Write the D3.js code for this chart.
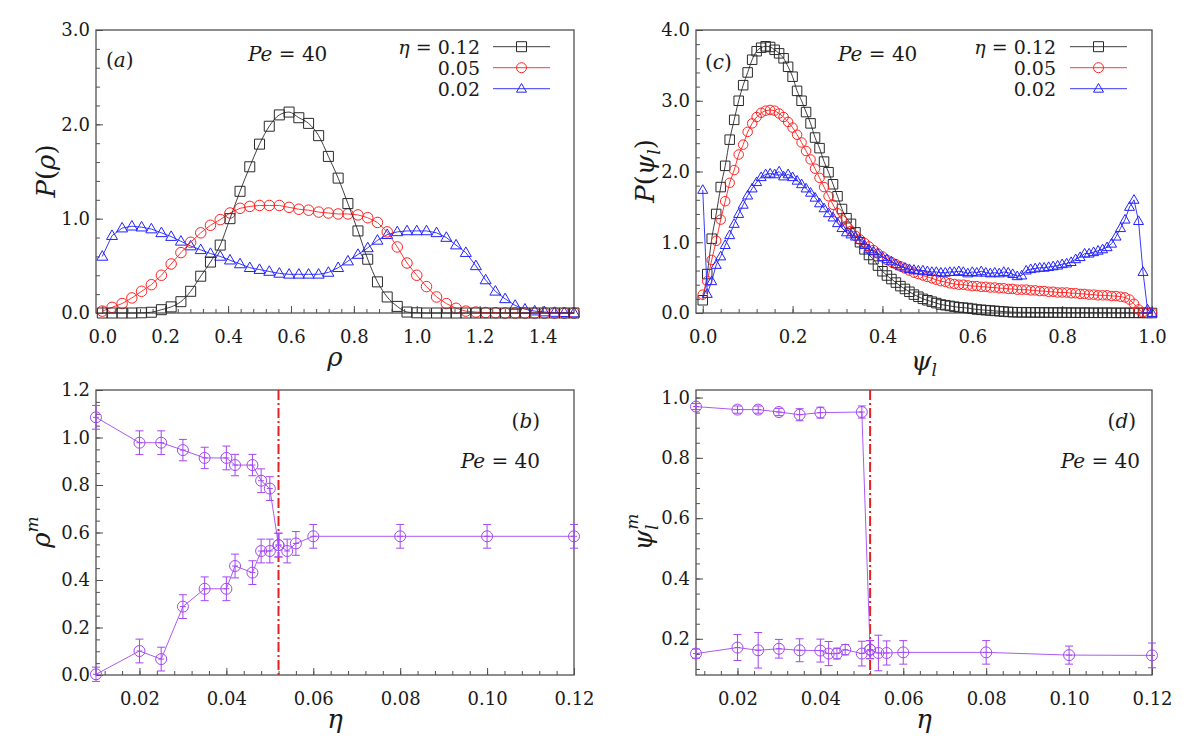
<!DOCTYPE html>
<html>
<head>
<meta charset="utf-8">
<script src="https://cdn.jsdelivr.net/npm/d3@7"></script>
<style>
  body { margin: 0; background: #fff; }
</style>
</head>
<body>
<div id="container"></div>
<script>
// ---------- panel (a): P(rho), Pe = 40 ----------
const rhoBins = [0, 0.031, 0.063, 0.094, 0.125, 0.156, 0.188, 0.219, 0.25, 0.281, 0.313, 0.344, 0.375, 0.406, 0.438, 0.469,
  0.5, 0.531, 0.563, 0.594, 0.625, 0.656, 0.688, 0.719, 0.75, 0.781, 0.813, 0.844, 0.875, 0.906, 0.938, 0.969,
  1.0, 1.031, 1.063, 1.094, 1.125, 1.156, 1.188, 1.219, 1.25, 1.281, 1.313, 1.344, 1.375, 1.406, 1.438, 1.469, 1.5];
const pRho012 = [0, 0, 0, 0, 0.002, 0.008, 0.035, 0.065, 0.12, 0.23, 0.39, 0.54, 0.72, 1.0, 1.29, 1.55,
  1.79, 1.98, 2.10, 2.13, 2.07, 2.01, 1.88, 1.66, 1.43, 1.16, 0.87, 0.57, 0.33, 0.17, 0.07, 0.01,
  0.002, 0, 0, 0, 0, 0, 0, 0, 0, 0, 0, 0, 0, 0, 0, 0, 0];
const pRho005 = [0.02, 0.06, 0.10, 0.16, 0.23, 0.30, 0.40, 0.52, 0.64, 0.75, 0.85, 0.93, 0.99, 1.06, 1.11, 1.13,
  1.14, 1.14, 1.14, 1.12, 1.10, 1.09, 1.07, 1.06, 1.05, 1.05, 1.04, 1.01, 0.96, 0.86, 0.70, 0.53,
  0.40, 0.28, 0.17, 0.10, 0.05, 0.02, 0.01, 0.005, 0.003, 0, 0, 0, 0, 0, 0, 0, 0];
const pRho002 = [0.60, 0.82, 0.90, 0.92, 0.91, 0.89, 0.85, 0.81, 0.76, 0.71, 0.67, 0.63, 0.60, 0.56, 0.52, 0.48,
  0.46, 0.44, 0.42, 0.41, 0.41, 0.41, 0.41, 0.43, 0.48, 0.55, 0.62, 0.69, 0.77, 0.83, 0.86, 0.87,
  0.87, 0.87, 0.85, 0.80, 0.72, 0.64, 0.50, 0.35, 0.23, 0.15, 0.08, 0.04, 0.02, 0.01, 0.005, 0.003, 0];

// ---------- panel (c): P(psi_l), Pe = 40 ----------
const psiBins = [0, 0.01, 0.02, 0.03, 0.04, 0.05, 0.06, 0.07, 0.08, 0.09, 0.1, 0.11, 0.12, 0.13, 0.14, 0.15, 0.16, 0.17, 0.18, 0.19,
  0.2, 0.21, 0.22, 0.23, 0.24, 0.25, 0.26, 0.27, 0.28, 0.29, 0.3, 0.31, 0.32, 0.33, 0.34, 0.35, 0.36, 0.37, 0.38, 0.39,
  0.4, 0.41, 0.42, 0.43, 0.44, 0.45, 0.46, 0.47, 0.48, 0.49, 0.5, 0.51, 0.52, 0.53, 0.54, 0.55, 0.56, 0.57, 0.58, 0.59,
  0.6, 0.61, 0.62, 0.63, 0.64, 0.65, 0.66, 0.67, 0.68, 0.69, 0.7, 0.71, 0.72, 0.73, 0.74, 0.75, 0.76, 0.77, 0.78, 0.79,
  0.8, 0.81, 0.82, 0.83, 0.84, 0.85, 0.86, 0.87, 0.88, 0.89, 0.9, 0.91, 0.92, 0.93, 0.94, 0.95, 0.96, 0.97, 0.98, 0.99, 1.0];
const pPsi012 = [0.18, 0.55, 1.05, 1.40, 1.78, 2.08, 2.45, 2.73, 3.00, 3.22,
  3.40, 3.58, 3.70, 3.75, 3.77, 3.76, 3.72, 3.67, 3.60, 3.48,
  3.34, 3.14, 3.00, 2.84, 2.68, 2.48, 2.33, 2.14, 1.99, 1.82,
  1.65, 1.47, 1.34, 1.26, 1.14, 1.00, 0.90, 0.82, 0.76, 0.67,
  0.59, 0.53, 0.48, 0.43, 0.38, 0.34, 0.30, 0.26, 0.23, 0.20,
  0.18, 0.16, 0.14, 0.12, 0.11, 0.10, 0.09, 0.08, 0.075, 0.07,
  0.06, 0.05, 0.045, 0.04, 0.035, 0.03, 0.025, 0.02, 0.015, 0.012,
  0.01, 0.01, 0.009, 0.009, 0.008, 0.008, 0.007, 0.007, 0.006, 0.006,
  0.005, 0.005, 0.005, 0.004, 0.004, 0.004, 0.004, 0.003, 0.003, 0.003,
  0.003, 0.003, 0.002, 0.002, 0.002, 0.002, 0.002, 0.002, 0.001, 0.001, 0];
const pPsi005 = [0.26, 0.45, 0.75, 1.02, 1.32, 1.58, 1.84, 2.02, 2.24, 2.38,
  2.56, 2.68, 2.77, 2.83, 2.86, 2.87, 2.86, 2.82, 2.77, 2.70,
  2.62, 2.52, 2.41, 2.29, 2.17, 2.04, 1.91, 1.78, 1.65, 1.53,
  1.41, 1.31, 1.23, 1.16, 1.09, 1.04, 0.99, 0.94, 0.89, 0.84,
  0.80, 0.75, 0.72, 0.69, 0.66, 0.63, 0.60, 0.57, 0.55, 0.53,
  0.51, 0.49, 0.47, 0.45, 0.44, 0.42, 0.41, 0.40, 0.40, 0.39,
  0.38, 0.38, 0.37, 0.37, 0.36, 0.36, 0.35, 0.35, 0.34, 0.34,
  0.33, 0.33, 0.33, 0.32, 0.32, 0.31, 0.31, 0.30, 0.30, 0.29,
  0.29, 0.29, 0.28, 0.28, 0.27, 0.27, 0.26, 0.26, 0.25, 0.25,
  0.25, 0.24, 0.24, 0.23, 0.22, 0.19, 0.13, 0.05, 0.01, 0.0, 0.0];
const pPsi002 = [1.74, 0.27, 0.45, 0.68, 0.80, 0.96, 1.10, 1.26, 1.40, 1.53,
  1.66, 1.76, 1.85, 1.92, 1.96, 1.97, 1.96, 2.00, 1.93, 1.96,
  1.92, 1.87, 1.82, 1.76, 1.70, 1.63, 1.55, 1.48, 1.41, 1.35,
  1.27, 1.20, 1.14, 1.11, 1.08, 1.03, 0.96, 0.90, 0.87, 0.84,
  0.79, 0.76, 0.73, 0.69, 0.66, 0.64, 0.62, 0.61, 0.60, 0.60,
  0.59, 0.58, 0.58, 0.57, 0.57, 0.58, 0.58, 0.59, 0.58, 0.56,
  0.58, 0.57, 0.59, 0.57, 0.56, 0.57, 0.56, 0.58, 0.57, 0.55,
  0.52, 0.53, 0.60, 0.62, 0.63, 0.64, 0.64, 0.65, 0.66, 0.67,
  0.69, 0.70, 0.72, 0.76, 0.79, 0.84, 0.84, 0.86, 0.88, 0.90,
  0.93, 0.98, 1.08, 1.20, 1.32, 1.50, 1.60, 1.30, 0.58, 0.05, 0.0];

const etaLabels = ["0.12", "0.05", "0.02"];

// ---------- panel (b): rho^m vs eta ----------
const etaUpperB = [0.01, 0.02, 0.025, 0.03, 0.035, 0.04, 0.042, 0.046, 0.048, 0.05, 0.052];
const rhoUpper = [1.085, 0.978, 0.978, 0.947, 0.914, 0.914, 0.884, 0.884, 0.818, 0.785, 0.547];
const rhoUpperErr = [0.05, 0.05, 0.05, 0.045, 0.045, 0.05, 0.045, 0.045, 0.05, 0.05, 0.05];
const etaLowerB = [0.01, 0.02, 0.025, 0.03, 0.035, 0.04, 0.042, 0.046, 0.048, 0.05, 0.052, 0.054, 0.056, 0.06, 0.08, 0.1, 0.12];
const rhoLower = [0.003, 0.101, 0.067, 0.288, 0.363, 0.363, 0.459, 0.431, 0.522, 0.522, 0.547, 0.522, 0.554, 0.584, 0.584, 0.584, 0.584];
const rhoLowerErr = [0.03, 0.05, 0.05, 0.05, 0.05, 0.05, 0.05, 0.05, 0.05, 0.05, 0.05, 0.05, 0.05, 0.05, 0.05, 0.05, 0.05];

// ---------- panel (d): psi_l^m vs eta ----------
const etaUpperD = [0.01, 0.02, 0.025, 0.03, 0.035, 0.04, 0.05, 0.052];
const psiUpper = [0.970, 0.960, 0.960, 0.952, 0.943, 0.950, 0.952, 0.164];
const psiUpperErr = [0.01, 0.012, 0.012, 0.012, 0.02, 0.018, 0.02, 0.03];
const etaLowerD = [0.01, 0.02, 0.025, 0.03, 0.035, 0.04, 0.042, 0.044, 0.046, 0.05, 0.052, 0.054, 0.056, 0.06, 0.08, 0.1, 0.12];
const psiLower = [0.151, 0.171, 0.162, 0.167, 0.162, 0.161, 0.151, 0.151, 0.164, 0.151, 0.164, 0.153, 0.153, 0.155, 0.155, 0.146, 0.145];
const psiLowerErr = [0.015, 0.043, 0.059, 0.031, 0.038, 0.038, 0.04, 0.018, 0.017, 0.041, 0.03, 0.059, 0.04, 0.039, 0.039, 0.03, 0.041];

const etaCritical = 0.052;

// tick labels
const xTicksA = [0, 0.2, 0.4, 0.6, 0.8, 1.0, 1.2, 1.4];
const yTicksA = [0, 1, 2, 3];
const xTicksC = [0, 0.2, 0.4, 0.6, 0.8, 1.0];
const yTicksC = [0, 1, 2, 3, 4];
const xTicksEta = [0.02, 0.04, 0.06, 0.08, 0.10, 0.12];
const yTicksB = [0, 0.2, 0.4, 0.6, 0.8, 1.0, 1.2];
const yTicksD = [0.2, 0.4, 0.6, 0.8, 1.0];

// ---------- styles ----------
const serif = "'DejaVu Serif', 'Liberation Serif', serif";
const frameCol = "#505050";
const seriesCol = ["#2a2a2a", "#ff2222", "#2222ff"];
const seriesShape = ["square", "circle", "triangle"];
const purple = "#a446f4";
const dashRed = "#e52222";

const svg = d3.select("#container").append("svg")
  .attr("width", 1200)
  .attr("height", 750)
  .attr("viewBox", [0, 0, 1200, 750])
  .style("font-family", serif);

function marker(shape, s) {
  if (shape === "square") return `M${-s / 2},${-s / 2}h${s}v${s}h${-s}Z`;
  if (shape === "circle") {
    const p = d3.path();
    p.arc(0, 0, s / 2, 0, 2 * Math.PI);
    return p.toString();
  }
  const h = s * 0.866;
  return `M0,${-h * 0.6}L${s / 2},${h * 0.4}L${-s / 2},${h * 0.4}Z`;
}

function minorRange(a, b, step) {
  return d3.range(Math.round((b - a) / step) + 1).map(i => +(a + i * step).toFixed(5));
}

// Builds the frame, inward ticks and tick labels of one panel.
function panel(o) {
  const x = d3.scaleLinear().domain(o.xDomain).range([o.l, o.r]);
  const y = d3.scaleLinear().domain(o.yDomain).range([o.b, o.t]);
  const g = svg.append("g").attr("color", frameCol);
  const inX = v => v >= o.xDomain[0] - 1e-9 && v <= o.xDomain[1] + 1e-9;
  const inY = v => v >= o.yDomain[0] - 1e-9 && v <= o.yDomain[1] + 1e-9;

  g.append("g").attr("transform", `translate(0,${o.b})`)
    .call(d3.axisBottom(x).tickValues(o.xMinor.filter(inX)).tickSize(-4).tickFormat(""))
    .call(a => a.select(".domain").remove());
  g.append("g").attr("transform", `translate(${o.l},0)`)
    .call(d3.axisLeft(y).tickValues(o.yMinor.filter(inY)).tickSize(-4).tickFormat(""))
    .call(a => a.select(".domain").remove());

  const ax = g.append("g").attr("transform", `translate(0,${o.b})`)
    .call(d3.axisBottom(x).tickValues(o.xTicks).tickSize(-7).tickPadding(17).tickFormat(d3.format(o.xFmt)))
    .call(a => a.select(".domain").remove());
  const ay = g.append("g").attr("transform", `translate(${o.l},0)`)
    .call(d3.axisLeft(y).tickValues(o.yTicks).tickSize(-7).tickPadding(6).tickFormat(d3.format(o.yFmt)))
    .call(a => a.select(".domain").remove());
  [ax, ay].forEach(a => {
    a.attr("font-family", null).attr("font-size", null);
    a.selectAll("text").style("font-family", serif).style("font-size", "18px").attr("fill", "#1a1a1a");
  });

  g.append("rect")
    .attr("x", o.l).attr("y", o.t)
    .attr("width", o.r - o.l).attr("height", o.b - o.t)
    .attr("fill", "none").attr("stroke", frameCol).attr("stroke-width", 1.3);
  return {x, y};
}

function rich(g, x, y, parts, size, anchor, rotate) {
  const t = g.append("text")
    .attr("x", x).attr("y", y)
    .style("font-family", serif)
    .style("font-size", size + "px")
    .attr("fill", "#1a1a1a")
    .attr("text-anchor", anchor || "start");
  if (rotate) t.attr("transform", `rotate(-90,${x},${y})`);
  parts.forEach(p => {
    const s = t.append("tspan").text(p.t);
    if (p.i) s.style("font-style", "italic");
    if (p.dx) s.attr("dx", p.dx);
    if (p.dy) s.attr("dy", p.dy);
    if (p.fs) s.style("font-size", p.fs);
  });
  return t;
}

function drawSeries(sc, bins, vals, col, shape, size, curve) {
  const pts = d3.zip(bins, vals);
  const g = svg.append("g");
  g.append("path")
    .attr("d", d3.line().x(d => sc.x(d[0])).y(d => sc.y(d[1])).curve(curve || d3.curveLinear)(pts))
    .attr("fill", "none").attr("stroke", col).attr("stroke-width", 0.9);
  g.selectAll("path.m").data(pts).join("path")
    .attr("class", "m")
    .attr("transform", d => `translate(${sc.x(d[0])},${sc.y(d[1])})`)
    .attr("d", marker(shape, size))
    .attr("fill", "none").attr("stroke", col).attr("stroke-width", 1);
}

function legend(x0, y0, textRight, size) {
  const g = svg.append("g");
  etaLabels.forEach((lab, i) => {
    const yy = y0 + i * 21;
    const parts = i === 0 ? [{t: "η", i: true}, {t: " = " + lab}] : [{t: lab}];
    rich(g, textRight, yy + 7, parts, 19, "end");
    g.append("line").attr("x1", x0).attr("x2", x0 + 57).attr("y1", yy).attr("y2", yy)
      .attr("stroke", seriesCol[i]).attr("stroke-width", 0.9);
    g.append("path").attr("transform", `translate(${x0 + 28.5},${yy})`)
      .attr("d", marker(seriesShape[i], size))
      .attr("fill", "none").attr("stroke", seriesCol[i]).attr("stroke-width", 1);
  });
}

function drawErrSeries(sc, etas, vals, errs) {
  const pts = d3.zip(etas, vals, errs);
  const g = svg.append("g").attr("stroke", purple).attr("fill", "none");
  g.append("path")
    .attr("d", d3.line().x(d => sc.x(d[0])).y(d => sc.y(d[1]))(pts))
    .attr("stroke-width", 0.9);
  pts.forEach(d => {
    const cx = sc.x(d[0]), cy = sc.y(d[1]);
    const y1 = sc.y(d[1] - d[2]), y2 = sc.y(d[1] + d[2]);
    g.append("line").attr("x1", cx).attr("x2", cx).attr("y1", y1).attr("y2", y2).attr("stroke-width", 1);
    g.append("line").attr("x1", cx - 4).attr("x2", cx + 4).attr("y1", y1).attr("y2", y1).attr("stroke-width", 1);
    g.append("line").attr("x1", cx - 4).attr("x2", cx + 4).attr("y1", y2).attr("y2", y2).attr("stroke-width", 1);
    g.append("line").attr("x1", cx - 3).attr("x2", cx + 3).attr("y1", cy).attr("y2", cy).attr("stroke-width", 1);
    g.append("circle").attr("cx", cx).attr("cy", cy).attr("r", 5.5).attr("stroke-width", 1);
  });
}

function critLine(sc) {
  svg.append("line")
    .attr("x1", sc.x(etaCritical)).attr("x2", sc.x(etaCritical))
    .attr("y1", sc.y.range()[1]).attr("y2", sc.y.range()[0])
    .attr("stroke", dashRed).attr("stroke-width", 2)
    .attr("stroke-dasharray", "10,3,2,3");
}

// ---------- (a) ----------
const pa = panel({
  l: 96, r: 574, t: 30, b: 313,
  xDomain: [-0.02, 1.5], yDomain: [0, 3],
  xTicks: xTicksA, xMinor: minorRange(0, 1.48, 0.04), xFmt: ".1f",
  yTicks: yTicksA, yMinor: minorRange(0, 3, 0.2), yFmt: ".1f"
});
drawSeries(pa, rhoBins, pRho002, seriesCol[2], "triangle", 11);
drawSeries(pa, rhoBins, pRho005, seriesCol[1], "circle", 10.5);
drawSeries(pa, rhoBins, pRho012, seriesCol[0], "square", 10, d3.curveMonotoneX);
legend(493, 46.7, 480, 10);
const ta = svg.append("g");
rich(ta, 106, 67, [{t: "("}, {t: "a", i: true}, {t: ")"}], 20);
rich(ta, 248, 61, [{t: "Pe", i: true}, {t: " = 40"}], 20);
rich(ta, 335, 366, [{t: "ρ", i: true}], 26, "middle");
rich(ta, 55, 171, [{t: "P", i: true}, {t: "("}, {t: "ρ", i: true}, {t: ")"}], 26, "middle", true);

// ---------- (c) ----------
const pc = panel({
  l: 696, r: 1152, t: 30, b: 313,
  xDomain: [-0.015, 1.0], yDomain: [0, 4],
  xTicks: xTicksC, xMinor: minorRange(0, 1, 0.04), xFmt: ".1f",
  yTicks: yTicksC, yMinor: minorRange(0, 4, 0.2), yFmt: ".1f"
});
drawSeries(pc, psiBins, pPsi012, seriesCol[0], "square", 9.5, d3.curveMonotoneX);
drawSeries(pc, psiBins, pPsi005, seriesCol[1], "circle", 9.5);
drawSeries(pc, psiBins, pPsi002, seriesCol[2], "triangle", 10);
legend(1070, 46.7, 1056, 10);
const tc = svg.append("g");
rich(tc, 705, 69, [{t: "("}, {t: "c", i: true}, {t: ")"}], 20);
rich(tc, 838, 61, [{t: "Pe", i: true}, {t: " = 40"}], 20);
rich(tc, 924, 370, [{t: "ψ", i: true}, {t: "l", i: true, dy: 6, fs: "17px"}], 26, "middle");
rich(tc, 654, 171, [{t: "P", i: true}, {t: "("}, {t: "ψ", i: true}, {t: "l", i: true, dy: 6, fs: "17px"}, {t: ")", dy: -6}], 26, "middle", true);

// ---------- (b) ----------
const pb = panel({
  l: 96, r: 574, t: 390, b: 675,
  xDomain: [0.01, 0.12], yDomain: [0, 1.2],
  xTicks: xTicksEta, xMinor: minorRange(0.012, 0.12, 0.004), xFmt: ".2f",
  yTicks: yTicksB, yMinor: minorRange(0, 1.2, 0.05), yFmt: ".1f"
});
critLine(pb);
drawErrSeries(pb, etaUpperB, rhoUpper, rhoUpperErr);
drawErrSeries(pb, etaLowerB, rhoLower, rhoLowerErr);
const tb = svg.append("g");
rich(tb, 540, 428, [{t: "("}, {t: "b", i: true}, {t: ")"}], 20, "end");
rich(tb, 540, 468, [{t: "Pe", i: true}, {t: " = 40"}], 20, "end");
rich(tb, 335, 728, [{t: "η", i: true}], 26, "middle");
rich(tb, 50, 532, [{t: "ρ", i: true}, {t: "m", i: true, dy: -12, fs: "17px"}], 26, "middle", true);

// ---------- (d) ----------
const pd = panel({
  l: 696, r: 1152, t: 390, b: 675,
  xDomain: [0.01, 0.12], yDomain: [0.08, 1.025],
  xTicks: xTicksEta, xMinor: minorRange(0.012, 0.12, 0.004), xFmt: ".2f",
  yTicks: yTicksD, yMinor: minorRange(0.1, 1.0, 0.05), yFmt: ".1f"
});
critLine(pd);
drawErrSeries(pd, etaUpperD, psiUpper, psiUpperErr);
drawErrSeries(pd, etaLowerD, psiLower, psiLowerErr);
const td = svg.append("g");
rich(td, 1136, 428, [{t: "("}, {t: "d", i: true}, {t: ")"}], 20, "end");
rich(td, 1140, 468, [{t: "Pe", i: true}, {t: " = 40"}], 20, "end");
rich(td, 924, 728, [{t: "η", i: true}], 26, "middle");
rich(td, 652, 532, [{t: "ψ", i: true}, {t: "l", i: true, dy: 6, fs: "17px"}, {t: "m", i: true, dx: -5, dy: -20, fs: "17px"}], 26, "middle", true);
</script>
</body>
</html>
